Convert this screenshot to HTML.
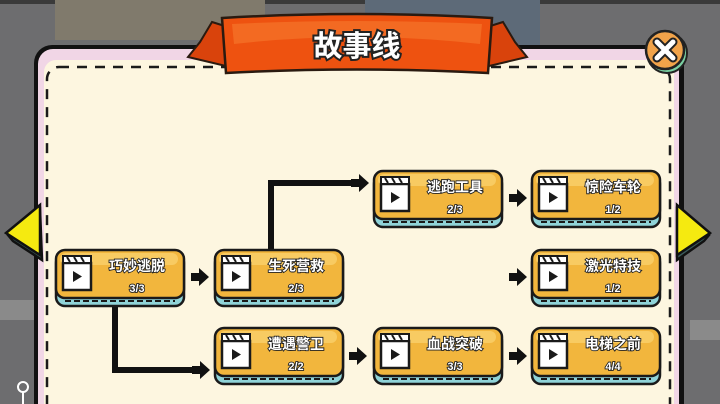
<!DOCTYPE html>
<html><head><meta charset="utf-8"><style>
html,body{margin:0;padding:0;width:720px;height:404px;overflow:hidden;background:#6d6d6f}
svg{display:block;position:absolute;left:0;top:0}
.t{font-family:"Liberation Sans","Noto Sans CJK SC",sans-serif;font-weight:bold;fill:#fff;stroke:#222;stroke-width:1.8px;paint-order:stroke;text-anchor:middle}
</style></head><body>
<svg width="720" height="404" viewBox="0 0 720 404" style="overflow:hidden">
<defs>
<g id="node">
  <rect x="1" y="4" width="128" height="52" rx="9" fill="#8fd3d8" stroke="#1a1a1a" stroke-width="2.5"/>
  <line x1="10" y1="51" x2="120" y2="51" stroke="#1a1a1a" stroke-width="2" stroke-dasharray="6 3"/>
  <rect x="1" y="0" width="128" height="48" rx="9" fill="#f2b63d" stroke="#1a1a1a" stroke-width="2.5"/>
  <rect x="5" y="3" width="118" height="12" rx="6" fill="#f8cb62"/>
  <rect x="8" y="13" width="28" height="27" fill="#fff" stroke="#1a1a1a" stroke-width="2.5"/>
  <rect x="8" y="6" width="28" height="7" fill="#fff" stroke="#1a1a1a" stroke-width="2"/>
  <path d="M12 7l3 5M19 7l3 5M26 7l3 5" stroke="#1a1a1a" stroke-width="2"/>
  <path d="M18 21v11l9-5.5z" fill="#1a1a1a"/>
</g>
<path id="ah" d="M0 -4h8v-5l10 9l-10 9v-5h-8z" fill="#111"/>
</defs>
<rect x="0" y="0" width="720" height="4" fill="#3a3a3a"/>
<rect x="55" y="0" width="210" height="40" fill="#807a6c"/>
<rect x="365" y="0" width="175" height="45" fill="#5d6a78"/>
<rect x="0" y="300" width="40" height="20" fill="#8a8a8a"/>
<rect x="690" y="320" width="30" height="20" fill="#8a8a8a"/>
<rect x="34" y="45" width="650" height="380" rx="18" fill="#111"/>
<rect x="38" y="49" width="641" height="380" rx="15" fill="#f1d6e6"/>
<rect x="44" y="60" width="630" height="370" rx="12" fill="#fdf6e0"/>
<rect x="47" y="67" width="623" height="370" rx="12" fill="none" stroke="#1a1a1a" stroke-width="2.5" stroke-dasharray="10 8"/>
<path d="M212 22l-12 20-12 15 42 10 -2-40z" fill="#d9430c" stroke="#2a1a10" stroke-width="2"/>
<path d="M503 22l12 20 12 15-42 10 2-40z" fill="#d9430c" stroke="#2a1a10" stroke-width="2"/>
<path d="M222 18q135-8 270 0l-4 55q-131-7-262 0z" fill="#ee5210" stroke="#2a1a10" stroke-width="2.5"/>
<path d="M232 24q125-6 250 0l-2 20q-123-14-246 0z" fill="#f36a22"/>
<text class="t" x="357" y="56" font-size="29" style="stroke-width:4px">故事线</text>
<circle cx="667" cy="53" r="20" fill="#7ad0a2" stroke="#222" stroke-width="2"/>
<circle cx="665" cy="50" r="19" fill="#f1a34a" stroke="#222" stroke-width="2.5"/>
<path d="M657 42l16 16M673 42l-16 16" stroke="#222" stroke-width="9" stroke-linecap="round"/>
<path d="M657 42l16 16M673 42l-16 16" stroke="#fff" stroke-width="5" stroke-linecap="round"/>
<path d="M40 209l-32 26 5 6 29 19z" fill="#3a5a5a" stroke="#111" stroke-width="2.5"/>
<path d="M40 205l-34 28 34 22z" fill="#f5ea10" stroke="#111" stroke-width="2.5"/>
<path d="M677 209l32 26-5 6-27 19z" fill="#3a5a5a" stroke="#111" stroke-width="2.5"/>
<path d="M677 205l33 28-33 22z" fill="#f5ea10" stroke="#111" stroke-width="2.5"/>
<path d="M271 250V183H356" fill="none" stroke="#111" stroke-width="6"/>
<use href="#ah" x="351" y="183"/>
<path d="M115 306V370H196" fill="none" stroke="#111" stroke-width="6"/>
<use href="#ah" x="192" y="370"/>
<use href="#ah" x="191" y="277"/>
<use href="#ah" x="349" y="356"/>
<use href="#ah" x="509" y="198"/>
<use href="#ah" x="509" y="277"/>
<use href="#ah" x="509" y="356"/>
<use href="#node" x="55" y="250"/>
<use href="#node" x="214" y="250"/>
<use href="#node" x="214" y="328"/>
<use href="#node" x="373" y="171"/>
<use href="#node" x="373" y="328"/>
<use href="#node" x="531" y="171"/>
<use href="#node" x="531" y="250"/>
<use href="#node" x="531" y="328"/>
<g font-size="14">
<text class="t" x="137" y="271">巧妙逃脱</text><text class="t" x="137" y="292" font-size="11">3/3</text>
<text class="t" x="296" y="271">生死营救</text><text class="t" x="296" y="292" font-size="11">2/3</text>
<text class="t" x="296" y="349">遭遇警卫</text><text class="t" x="296" y="370" font-size="11">2/2</text>
<text class="t" x="455" y="192">逃跑工具</text><text class="t" x="455" y="213" font-size="11">2/3</text>
<text class="t" x="455" y="349">血战突破</text><text class="t" x="455" y="370" font-size="11">3/3</text>
<text class="t" x="613" y="192">惊险车轮</text><text class="t" x="613" y="213" font-size="11">1/2</text>
<text class="t" x="613" y="271">激光特技</text><text class="t" x="613" y="292" font-size="11">1/2</text>
<text class="t" x="613" y="349">电梯之前</text><text class="t" x="613" y="370" font-size="11">4/4</text>
</g>
<circle cx="23" cy="387" r="5" fill="none" stroke="#fff" stroke-width="2"/>
<path d="M23 392v12" stroke="#fff" stroke-width="2"/>
</svg>
</body></html>
